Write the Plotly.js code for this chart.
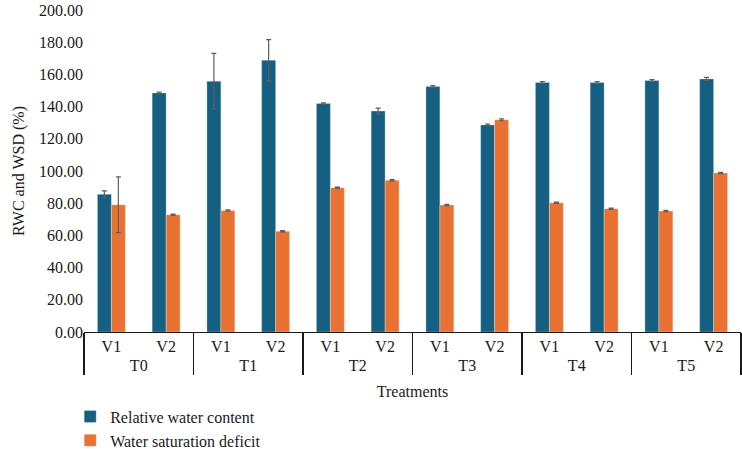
<!DOCTYPE html>
<html>
<head>
<meta charset="utf-8">
<script src="https://cdn.plot.ly/plotly-3.0.1.min.js"></script>
<style>
  html, body { margin: 0; padding: 0; background: #fff; }
  #chart { width: 742px; height: 449px; }
</style>
</head>
<body>
<div id="chart"></div>
<script>
// Treatment groups and varieties (two-level category axis)
const treatments = ["T0", "T0", "T1", "T1", "T2", "T2", "T3", "T3", "T4", "T4", "T5", "T5"];
const varieties  = ["V1", "V2", "V1", "V2", "V1", "V2", "V1", "V2", "V1", "V2", "V1", "V2"];

// Y-axis tick values
const yTicks = [0, 20, 40, 60, 80, 100, 120, 140, 160, 180, 200];

// Relative water content (%) and its error
const rwc     = [85.5, 148.5, 155.8, 168.8, 142.0, 137.2, 152.5, 128.6, 155.0, 155.0, 156.2, 157.2];
const rwcErr  = [2.2, 0.5, 17.2, 12.8, 0.4, 1.8, 0.5, 0.5, 0.6, 0.6, 0.6, 1.0];

// Water saturation deficit (%) and its error
const wsd     = [79.0, 72.8, 75.4, 62.6, 89.6, 94.3, 78.9, 131.8, 80.3, 76.6, 75.1, 98.8];
const wsdErr  = [17.3, 0.4, 0.4, 0.4, 0.4, 0.4, 0.4, 0.6, 0.4, 0.4, 0.4, 0.4];

const x = [treatments, varieties];
const serif = "Liberation Serif, DejaVu Serif, serif";
const ink = "#1a1a1a";

const errStyle = (arr) => ({
  type: "data", array: arr, visible: true,
  color: "#5f5f5f", thickness: 1.2, width: 2.5
});

const traces = [
  {
    type: "bar", name: "Relative water content", x: x, y: rwc,
    marker: { color: "#156082", line: { color: "rgba(255,255,255,0.35)", width: 0.8 } },
    error_y: errStyle(rwcErr)
  },
  {
    type: "bar", name: "Water saturation deficit", x: x, y: wsd,
    marker: { color: "#E97132", line: { color: "rgba(255,255,255,0.35)", width: 0.8 } },
    error_y: errStyle(wsdErr)
  }
];

const layout = {
  width: 742, height: 449,
  margin: { l: 84, r: 1, t: 10, b: 117, autoexpand: false },
  paper_bgcolor: "#fff", plot_bgcolor: "#fff",
  font: { family: serif, size: 16, color: ink },
  barmode: "group",
  bargap: 0.49, bargroupgap: 0,
  showlegend: true,
  legend: {
    orientation: "v", x: -0.021, xanchor: "left", y: -0.21, yanchor: "top",
    font: { family: serif, size: 16, color: ink },
    tracegroupgap: 4, itemwidth: 30
  },
  xaxis: {
    type: "multicategory", automargin: false,
    showline: true, linecolor: ink, linewidth: 1.2,
    showdividers: true, dividercolor: ink, dividerwidth: 1.2,
    ticks: "", showgrid: false,
    tickfont: { family: serif, size: 16, color: ink },
    title: { text: "Treatments", font: { family: serif, size: 16, color: ink }, standoff: 12 }
  },
  yaxis: {
    range: [0, 200], tickmode: "array", tickvals: yTicks, tickformat: ".2f",
    automargin: false, ticklabeloverflow: "allow",
    showline: false, showgrid: false, zeroline: false, ticks: "",
    tickfont: { family: serif, size: 16, color: ink },
    title: { text: "RWC and WSD (%)", font: { family: serif, size: 16, color: ink }, standoff: 10 }
  }
};

Plotly.newPlot("chart", traces, layout, { displayModeBar: false, staticPlot: true });
</script>
</body>
</html>
